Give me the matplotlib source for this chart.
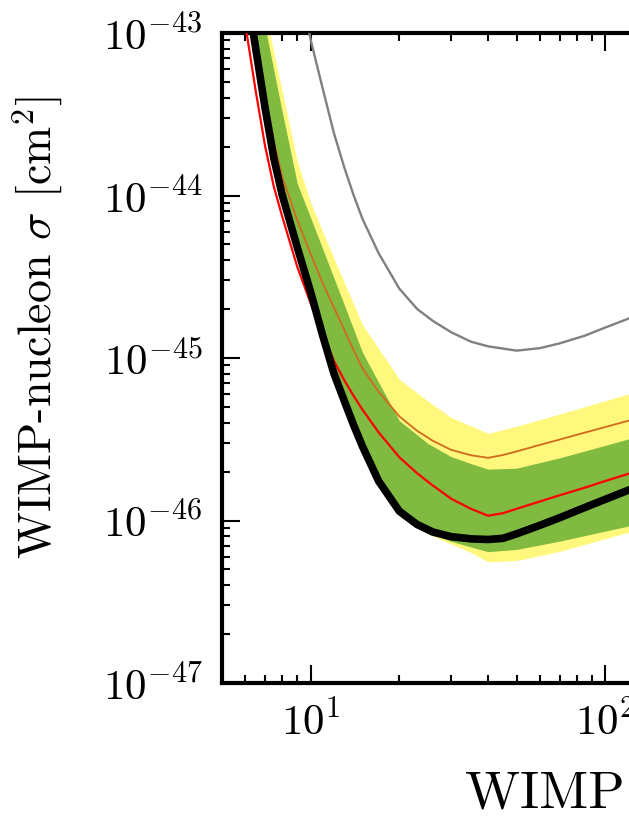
import numpy as np
import matplotlib
matplotlib.use("Agg")
import matplotlib.pyplot as plt
from matplotlib.ticker import LogLocator, FuncFormatter, NullFormatter

plt.rcParams["font.family"] = "serif"
plt.rcParams["font.serif"] = ["cmr10"]
plt.rcParams["mathtext.fontset"] = "cm"
plt.rcParams["axes.formatter.use_mathtext"] = True

# WIMP mass grid for the limit curves [GeV]
mass = [6, 6.5, 7, 7.5, 8, 9, 10, 11, 12, 13, 14, 15, 17, 20, 23, 26, 30, 35,
        40, 45, 50, 60, 70, 85, 100, 130, 150]

# observed 90% CL limit [cm^2]
limit_obs = [2.06e-43, 8.13e-44, 3.46e-44, 1.69e-44, 1.01e-44, 4.81e-45, 2.54e-45,
             1.36e-45, 8.00e-46, 5.45e-46, 3.85e-46, 2.85e-46, 1.75e-46, 1.14e-46,
             9.44e-47, 8.49e-47, 7.95e-47, 7.71e-47, 7.64e-47, 7.77e-47, 8.28e-47,
             9.34e-47, 1.04e-46, 1.20e-46, 1.35e-46, 1.63e-46, 1.81e-46]

# median expected sensitivity
sens_median = [1.13e-43, 4.45e-44, 2.02e-44, 1.13e-44, 7.46e-45, 3.65e-45, 2.17e-45,
               1.41e-45, 9.57e-46, 7.30e-46, 5.83e-46, 4.80e-46, 3.49e-46, 2.45e-46,
               1.95e-46, 1.64e-46, 1.36e-46, 1.18e-46, 1.07e-46, 1.11e-46, 1.18e-46,
               1.31e-46, 1.43e-46, 1.59e-46, 1.75e-46, 2.03e-46, 2.20e-46]

# previous-run limit
limit_prev = [2.33e-43, 9.49e-44, 4.23e-44, 2.16e-44, 1.31e-44, 7.06e-45, 4.36e-45,
              2.87e-45, 2.04e-45, 1.49e-45, 1.11e-45, 8.61e-46, 6.21e-46, 4.37e-46,
              3.56e-46, 3.09e-46, 2.72e-46, 2.52e-46, 2.43e-46, 2.53e-46, 2.66e-46,
              2.92e-46, 3.15e-46, 3.47e-46, 3.76e-46, 4.28e-46, 4.60e-46]

# older reference limit
mass_ref = [9, 10, 11, 12, 13, 14, 15, 17, 20, 23, 26, 30, 35, 40, 50, 60, 70,
            85, 100, 130, 150]
limit_ref = [2.37e-43, 9.07e-44, 4.51e-44, 2.41e-44, 1.49e-44, 1.00e-44, 7.16e-45,
             4.42e-45, 2.67e-45, 2.00e-45, 1.69e-45, 1.44e-45, 1.26e-45, 1.18e-45,
             1.11e-45, 1.15e-45, 1.23e-45, 1.37e-45, 1.54e-45, 1.85e-45, 2.05e-45]

# mass grid of the expected-sensitivity bands
mass_band = [6, 7, 8, 9, 10, 12, 15, 20, 25, 30, 35, 40, 50, 70, 100, 150]

# +/-1 sigma band
band1_lo = [1.77e-43, 3.0e-44, 8.8e-45, 4.25e-45, 2.29e-45, 7.4e-46, 2.65e-46,
            1.09e-46, 8.38e-47, 7.44e-47, 6.87e-47, 6.43e-47, 6.64e-47, 7.46e-47,
            8.61e-47, 1.01e-46]
band1_hi = [4.35e-43, 1.09e-43, 3.29e-44, 1.19e-44, 7.28e-45, 3.10e-45, 1.08e-45,
            4.11e-46, 2.98e-46, 2.47e-46, 2.24e-46, 2.07e-46, 2.10e-46, 2.43e-46,
            2.90e-46, 3.56e-46]

# +/-2 sigma band
band2_lo = [1.70e-43, 2.9e-44, 8.4e-45, 4.1e-45, 2.2e-45, 7.1e-46, 2.57e-46,
            1.06e-46, 8.26e-47, 7.17e-47, 6.35e-47, 5.57e-47, 5.67e-47, 6.46e-47,
            7.73e-47, 9.48e-47]
band2_hi = [4.97e-43, 1.36e-43, 4.40e-44, 1.63e-44, 9.04e-45, 4.09e-45, 1.6e-45,
            7.4e-46, 5.43e-46, 4.30e-46, 3.82e-46, 3.44e-46, 3.80e-46, 4.52e-46,
            5.46e-46, 6.78e-46]

fig = plt.figure(figsize=(6.29, 8.18), dpi=100)
W, H = 629.0, 818.0
x0, y_top, y_bot = 222.0, 33.0, 683.0
decade_px = 294.6
xmin, xmax = 5.0, 1000.0
ax_w = decade_px * np.log10(xmax / xmin)
ax = fig.add_axes([x0 / W, (H - y_bot) / H, ax_w / W, (y_bot - y_top) / H])

ax.fill_between(mass_band, band2_lo, band2_hi, color="#fff87c", lw=0, zorder=1)
ax.fill_between(mass_band, band1_lo, band1_hi, color="#80ba40", lw=0, zorder=2)
ax.plot(mass, limit_prev, color="#d2691e", lw=1.3, zorder=3)
ax.plot(mass_ref, limit_ref, color="#808080", lw=1.7, zorder=3)
ax.plot(mass, sens_median, color="#ff0000", lw=1.6, zorder=4)
ax.plot(mass, limit_obs, color="black", lw=5.5, zorder=5)

ax.set_xscale("log")
ax.set_yscale("log")
ax.set_xlim(xmin, xmax)
ax.set_ylim(1e-47, 1e-43)

def pow10(v, pos):
    return r"$10^{%d}$" % int(round(np.log10(v)))

for axis in (ax.xaxis, ax.yaxis):
    axis.set_major_locator(LogLocator(base=10, numticks=20))
    axis.set_minor_locator(LogLocator(base=10, subs=np.arange(2, 10), numticks=20))
    axis.set_major_formatter(FuncFormatter(pow10))
    axis.set_minor_formatter(NullFormatter())

ax.tick_params(which="both", direction="in", top=True, right=True, width=1.5)
ax.tick_params(which="major", length=13, labelsize=31)
ax.tick_params(which="minor", length=6)
ax.tick_params(axis="y", which="major", pad=14)
ax.tick_params(axis="x", which="major", pad=12)
for sp in ax.spines.values():
    sp.set_linewidth(3)

fig.text(65 / W, 1 - 327.5 / H, r"WIMP-nucleon $\sigma$ [cm$^2$]",
         rotation=90, ha="right", va="center", fontsize=33)
fig.text(465 / W, 1 - 808 / H, "WIMP mass [GeV]",
         ha="left", va="baseline", fontsize=38.5)

fig.savefig("out.png", dpi=100)
